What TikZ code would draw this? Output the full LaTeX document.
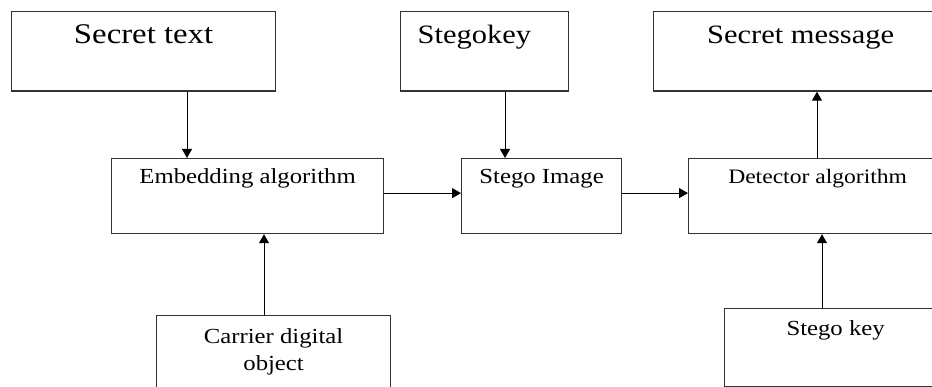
\documentclass[tikz,border=0pt]{standalone}
\usepackage{fontspec}
\setmainfont{Liberation Serif}[FakeStretch=1.15]
\usetikzlibrary{arrows.meta, calc}

\begin{document}
\begin{tikzpicture}[
    x=1pt, y=-1pt,
    box/.style={
        draw=black!80, line width=1.2pt, anchor=north west,
        inner xsep=0pt, inner ysep=0pt, align=center
    },
    bigtext/.style={font=\fontsize{26.5}{30}\selectfont},
    smalltext/.style={font=\fontsize{21.5}{27}\selectfont},
    arrow/.style={-{Triangle[length=9pt,width=10pt]}, line width=1pt, draw=black}
]
\useasboundingbox (0,0) rectangle (932,387);
\clip (0,0) rectangle (932,387);

% Top row: inputs and output
\node[box, font=\fontsize{28.5}{32}\selectfont, minimum width=264pt,
      text height=32pt, text depth=47.5pt] (secret) at (11,11) {Secret text};
\node[box, bigtext, text width=134pt, inner xsep=17pt, align=left,
      text height=32pt, text depth=47.5pt] (stegokey) at (400,11) {Stegokey};
\node[box, bigtext, minimum width=294pt,
      text height=32pt, text depth=47.5pt] (message) at (653,11) {Secret message};

% Middle row: processing
\node[box, smalltext, minimum width=272pt,
      text height=25pt, text depth=50pt] (embed) at (111,158) {Embedding algorithm};
\node[box, smalltext, minimum width=160pt,
      text height=25pt, text depth=50pt] (stegoimg) at (461,158) {Stego Image};
\node[box, smalltext, font=\fontsize{20.5}{27}\selectfont, minimum width=258pt,
      text height=25pt, text depth=50pt] (detector) at (688,158) {Detector algorithm};

% Bottom row
\node[box, smalltext, minimum width=234pt,
      text height=55pt, text depth=60pt] (carrier) at (156,315) {Carrier digital\\object};
\node[box, smalltext, minimum width=222pt,
      text height=27pt, text depth=51pt] (stegokey2) at (724,308) {Stego key};

% Arrows
\draw[arrow] ($(secret.south west)+(176,0)$) -- ($(embed.north west)+(76,0)$);
\draw[arrow] ($(carrier.north west)+(108,0)$) -- ($(embed.south west)+(153,0)$);
\draw[arrow] ($(stegokey.south west)+(105,0)$) -- ($(stegoimg.north west)+(44,0)$);
\draw[arrow] ([yshift=3pt]embed.east) -- ([yshift=3pt]stegoimg.west);
\draw[arrow] ([yshift=3pt]stegoimg.east) -- ([yshift=3pt]detector.west);
\draw[arrow] ($(detector.north west)+(129,0)$) -- ($(message.south west)+(164,0)$);
\draw[arrow] ($(stegokey2.north west)+(98,0)$) -- ($(detector.south west)+(134,0)$);

\end{tikzpicture}
\end{document}
